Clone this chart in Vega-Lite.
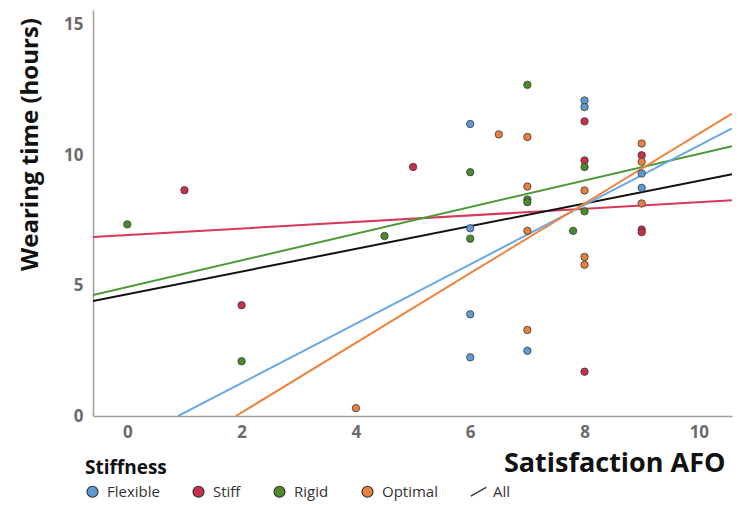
{
  "$schema": "https://vega.github.io/schema/vega-lite/v6.json",
  "width": 639,
  "height": 406,
  "autosize": "none",
  "padding": {"left": 93, "top": 10, "right": 7, "bottom": 89},
  "background": "white",
  "config": {
    "view": {"stroke": null},
    "font": "Open Sans"
  },
  "datasets": {
    "pts": [
      {"sat": 0, "wear": 7.35, "Stiffness": "Rigid"},
      {"sat": 1, "wear": 8.66, "Stiffness": "Stiff"},
      {"sat": 2, "wear": 4.25, "Stiffness": "Stiff"},
      {"sat": 2, "wear": 2.1, "Stiffness": "Rigid"},
      {"sat": 4, "wear": 0.3, "Stiffness": "Optimal"},
      {"sat": 4.5, "wear": 6.9, "Stiffness": "Rigid"},
      {"sat": 5, "wear": 9.55, "Stiffness": "Stiff"},
      {"sat": 6, "wear": 11.2, "Stiffness": "Flexible"},
      {"sat": 6, "wear": 9.35, "Stiffness": "Rigid"},
      {"sat": 6, "wear": 7.2, "Stiffness": "Flexible"},
      {"sat": 6, "wear": 6.8, "Stiffness": "Rigid"},
      {"sat": 6, "wear": 3.9, "Stiffness": "Flexible"},
      {"sat": 6, "wear": 2.25, "Stiffness": "Flexible"},
      {"sat": 6.5, "wear": 10.8, "Stiffness": "Optimal"},
      {"sat": 7, "wear": 12.7, "Stiffness": "Rigid"},
      {"sat": 7, "wear": 10.7, "Stiffness": "Optimal"},
      {"sat": 7, "wear": 8.8, "Stiffness": "Optimal"},
      {"sat": 7, "wear": 8.3, "Stiffness": "Rigid"},
      {"sat": 7, "wear": 8.2, "Stiffness": "Rigid"},
      {"sat": 7, "wear": 7.1, "Stiffness": "Optimal"},
      {"sat": 7, "wear": 3.3, "Stiffness": "Optimal"},
      {"sat": 7, "wear": 2.5, "Stiffness": "Flexible"},
      {"sat": 7.8, "wear": 7.1, "Stiffness": "Rigid"},
      {"sat": 8, "wear": 12.1, "Stiffness": "Flexible"},
      {"sat": 8, "wear": 11.85, "Stiffness": "Flexible"},
      {"sat": 8, "wear": 11.3, "Stiffness": "Stiff"},
      {"sat": 8, "wear": 9.8, "Stiffness": "Stiff"},
      {"sat": 8, "wear": 9.55, "Stiffness": "Rigid"},
      {"sat": 8, "wear": 8.65, "Stiffness": "Optimal"},
      {"sat": 8, "wear": 7.85, "Stiffness": "Rigid"},
      {"sat": 8, "wear": 6.1, "Stiffness": "Optimal"},
      {"sat": 8, "wear": 5.8, "Stiffness": "Optimal"},
      {"sat": 8, "wear": 1.7, "Stiffness": "Stiff"},
      {"sat": 9, "wear": 10.45, "Stiffness": "Optimal"},
      {"sat": 9, "wear": 10.0, "Stiffness": "Stiff"},
      {"sat": 9, "wear": 9.75, "Stiffness": "Optimal"},
      {"sat": 9, "wear": 9.3, "Stiffness": "Flexible"},
      {"sat": 9, "wear": 8.75, "Stiffness": "Flexible"},
      {"sat": 9, "wear": 8.15, "Stiffness": "Optimal"},
      {"sat": 9, "wear": 7.15, "Stiffness": "Stiff"},
      {"sat": 9, "wear": 7.05, "Stiffness": "Stiff"}
    ],
    "fits": [
      {"grp": "Stiff", "sat": -0.6, "wear": 6.86},
      {"grp": "Stiff", "sat": 10.58, "wear": 8.27},
      {"grp": "Rigid", "sat": -0.6, "wear": 4.64},
      {"grp": "Rigid", "sat": 10.58, "wear": 10.35},
      {"grp": "All", "sat": -0.6, "wear": 4.41},
      {"grp": "All", "sat": 10.58, "wear": 9.27},
      {"grp": "Flexible", "sat": 0.89, "wear": 0},
      {"grp": "Flexible", "sat": 10.58, "wear": 11.03},
      {"grp": "Optimal", "sat": 1.9, "wear": 0},
      {"grp": "Optimal", "sat": 10.58, "wear": 11.6}
    ]
  },
  "encoding": {
    "x": {
      "field": "sat", "type": "quantitative",
      "scale": {"domain": [-0.6, 10.58], "nice": false, "zero": false},
      "axis": {
        "values": [0, 2, 4, 6, 8, 10],
        "title": "Satisfaction AFO",
        "titleFontSize": 27, "titleFontWeight": "bold", "titleColor": "#111",
        "titleAnchor": "end", "titleAlign": "right", "titleBaseline": "middle",
        "titleX": 632, "titleY": 47,
        "labelFontSize": 17, "labelFontWeight": "bold", "labelColor": "#6b6b6b",
        "labelPadding": 8,
        "ticks": false, "grid": false,
        "domainColor": "#a0a0a0", "domainWidth": 1.5
      }
    },
    "y": {
      "field": "wear", "type": "quantitative",
      "scale": {"domain": [0, 15.57], "nice": false},
      "axis": {
        "values": [0, 5, 10, 15],
        "title": "Wearing time (hours)",
        "titleFontSize": 24, "titleFontWeight": "bold", "titleColor": "#111",
        "titleX": -63, "titleY": 134, "titleAlign": "center", "titleBaseline": "middle",
        "labelFontSize": 17, "labelFontWeight": "bold", "labelColor": "#6b6b6b",
        "labelPadding": 10,
        "ticks": false, "grid": false,
        "domainColor": "#a0a0a0", "domainWidth": 1.5
      }
    }
  },
  "layer": [
    {
      "data": {"name": "fits"},
      "mark": {"type": "line", "strokeWidth": 2, "clip": true},
      "encoding": {
        "detail": {"field": "grp", "type": "nominal"},
        "stroke": {
          "field": "grp", "type": "nominal",
          "scale": {
            "domain": ["All", "Flexible", "Stiff", "Rigid", "Optimal"],
            "range": ["#111111", "#6aa8e6", "#d8385a", "#4c9a34", "#f0823e"]
          },
          "legend": null
        }
      }
    },
    {
      "data": {"name": "pts"},
      "mark": {"type": "point", "filled": true, "size": 55, "opacity": 1, "stroke": "#3a3a3a", "strokeWidth": 0.8},
      "encoding": {
        "color": {
          "field": "Stiffness", "type": "nominal",
          "scale": {
            "domain": ["Flexible", "Stiff", "Rigid", "Optimal", "All"],
            "range": ["#5b9bd5", "#c8304a", "#4b8b2b", "#e8803c", "#111111"]
          },
          "legend": {
            "orient": "none", "legendX": -8, "legendY": 449,
            "direction": "horizontal", "columns": 5, "columnPadding": 30,
            "title": "Stiffness", "titleFontSize": 19, "titleFontWeight": "bold", "titleColor": "#111",
            "titlePadding": 6,
            "labelFontSize": 15, "labelColor": "#333", "labelOffset": 7,
            "symbolSize": 120, "symbolStrokeColor": "#333", "symbolStrokeWidth": 1.2
          }
        },
        "shape": {
          "field": "Stiffness", "type": "nominal",
          "scale": {
            "domain": ["Flexible", "Stiff", "Rigid", "Optimal", "All"],
            "range": ["circle", "circle", "circle", "circle", "M-1.4,0.8L1.4,-0.8"]
          },
          "legend": {
            "orient": "none", "legendX": -8, "legendY": 449,
            "direction": "horizontal", "columns": 5, "columnPadding": 30,
            "title": "Stiffness", "titleFontSize": 19, "titleFontWeight": "bold", "titleColor": "#111",
            "titlePadding": 6,
            "labelFontSize": 15, "labelColor": "#333", "labelOffset": 7,
            "symbolSize": 120, "symbolStrokeColor": "#333", "symbolStrokeWidth": 1.2
          }
        }
      }
    }
  ]
}
